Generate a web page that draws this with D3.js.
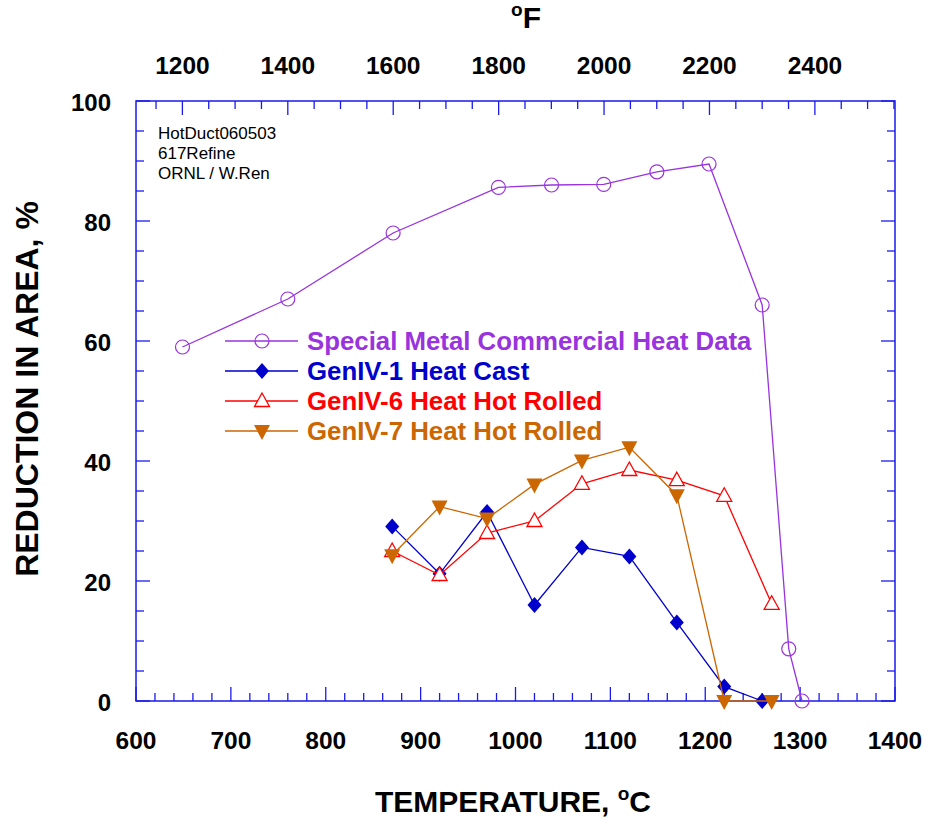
<!DOCTYPE html>
<html>
<head>
<meta charset="utf-8">
<script src="https://cdn.jsdelivr.net/npm/d3@7"></script>
<style>
  body { margin: 0; background: #fff; }
  text { font-family: Arial, "Liberation Sans", sans-serif; }
</style>
</head>
<body>
<svg width="927" height="818"></svg>
<script>
// temperatures in C (most were tested at round F values)
var smTemp = [649, 760, 871, 982, 1038, 1093, 1149, 1204, 1260, 1288, 1302];
var smRA   = [59, 67, 78, 85.6, 86, 86.1, 88.2, 89.5, 66, 8.7, 0];

var g1Temp = [870, 920, 970, 1020, 1070, 1120, 1170, 1220, 1260];
var g1RA   = [29.1, 21.2, 31.5, 16, 25.6, 24.1, 13.1, 2.4, 0];

var g6Temp = [870, 920, 970, 1020, 1070, 1120, 1170, 1220, 1270];
var g6RA   = [25, 21, 28, 30, 36.2, 38.5, 36.8, 34.2, 16.2];

var g7Temp = [870, 920, 970, 1020, 1070, 1120, 1170, 1220, 1270];
var g7RA   = [24.3, 32.4, 30.4, 36.1, 40.1, 42.3, 34.3, 0, 0];

var xTicksC = [600, 700, 800, 900, 1000, 1100, 1200, 1300, 1400];
var xTicksF = [1200, 1400, 1600, 1800, 2000, 2200, 2400];
var yTicks  = [0, 20, 40, 60, 80, 100];
var noteLines = ["HotDuct060503", "617Refine", "ORNL / W.Ren"];

var series = [
  {name: "Special Metal Commercial Heat Data", t: smTemp, v: smRA, color: "#9933dd", sym: "circle"},
  {name: "GenIV-1 Heat Cast", t: g1Temp, v: g1RA, color: "#0000cc", sym: "diamond"},
  {name: "GenIV-6 Heat Hot Rolled", t: g6Temp, v: g6RA, color: "#ff0000", sym: "tri"},
  {name: "GenIV-7 Heat Hot Rolled", t: g7Temp, v: g7RA, color: "#cc6600", sym: "down"}
];

var svg = d3.select("svg");
var L = 136, R = 895, T = 101, B = 701;
var axisColor = "#1a1aee";

var x = d3.scaleLinear().domain([600, 1400]).range([L, R]);
var y = d3.scaleLinear().domain([0, 100]).range([B, T]);
function f2c(f) { return (f - 32) * 5 / 9; }

// frame
svg.append("rect")
  .attr("x", L).attr("y", T).attr("width", R - L).attr("height", B - T)
  .attr("fill", "none").attr("stroke", axisColor).attr("stroke-width", 1.5);

var ticks = svg.append("g").attr("stroke", axisColor).attr("stroke-width", 1.3);

// bottom ticks every 20 C, major every 100
d3.range(600, 1401, 20).forEach(function(c) {
  var len = c % 100 === 0 ? 14 : 8;
  ticks.append("line").attr("x1", x(c)).attr("x2", x(c)).attr("y1", B).attr("y2", B - len);
});
// top ticks every 50 F, major every 200
d3.range(1150, 2551, 50).forEach(function(f) {
  var c = f2c(f);
  if (c < 600 || c > 1400) return;
  var len = f % 200 === 0 ? 14 : 8;
  ticks.append("line").attr("x1", x(c)).attr("x2", x(c)).attr("y1", T).attr("y2", T + len);
});
// left and right ticks every 5, major every 20
d3.range(0, 101, 5).forEach(function(v) {
  var len = v % 20 === 0 ? 14 : 8;
  ticks.append("line").attr("x1", L).attr("x2", L + len).attr("y1", y(v)).attr("y2", y(v));
  ticks.append("line").attr("x1", R).attr("x2", R - len).attr("y1", y(v)).attr("y2", y(v));
});

// tick labels
svg.append("g").selectAll("text").data(xTicksC).enter().append("text")
  .attr("x", function(d) { return x(d); }).attr("y", 749)
  .attr("text-anchor", "middle").attr("font-size", 24.5).attr("font-weight", "bold")
  .text(function(d) { return d; });

svg.append("g").selectAll("text").data(xTicksF).enter().append("text")
  .attr("x", function(d) { return x(f2c(d)); }).attr("y", 74)
  .attr("text-anchor", "middle").attr("font-size", 24.5).attr("font-weight", "bold")
  .text(function(d) { return d; });

svg.append("g").selectAll("text").data(yTicks).enter().append("text")
  .attr("x", 111).attr("y", function(d) { return y(d) + 10; })
  .attr("text-anchor", "end").attr("font-size", 24).attr("font-weight", "bold")
  .text(function(d) { return d; });

// axis titles
var xt = svg.append("text").attr("x", 513).attr("y", 812)
  .attr("text-anchor", "middle").attr("font-size", 30).attr("font-weight", "bold");
xt.append("tspan").text("TEMPERATURE, ");
xt.append("tspan").attr("font-size", 19).attr("dy", -12).text("o");
xt.append("tspan").attr("dy", 12).text("C");

var ft = svg.append("text").attr("x", 526).attr("y", 28)
  .attr("text-anchor", "middle").attr("font-size", 30).attr("font-weight", "bold");
ft.append("tspan").attr("font-size", 19).attr("dy", -12).text("o");
ft.append("tspan").attr("dy", 12).text("F");

svg.append("text")
  .attr("transform", "translate(38,389) rotate(-90)")
  .attr("text-anchor", "middle").attr("font-size", 32).attr("font-weight", "bold")
  .text("REDUCTION IN AREA, %");

// note
svg.append("g").selectAll("text").data(noteLines).enter().append("text")
  .attr("x", 158).attr("y", function(d, i) { return 139 + i * 20; })
  .attr("font-size", 17).text(function(d) { return d; });

// markers
function drawMarker(sel, sym, color) {
  if (sym === "circle") {
    sel.append("circle").attr("r", 7).attr("fill", "none").attr("stroke", color).attr("stroke-width", 1.2);
  } else if (sym === "diamond") {
    sel.append("path").attr("d", "M0,-8L7,0L0,8L-7,0Z").attr("fill", color);
  } else if (sym === "tri") {
    sel.append("path").attr("d", "M0,-8L7.5,5.5L-7.5,5.5Z").attr("fill", "#fff").attr("stroke", color).attr("stroke-width", 1.3);
  } else {
    sel.append("path").attr("d", "M-8,-6L8,-6L0,9Z").attr("fill", color);
  }
}

var line = d3.line().x(function(d) { return x(d[0]); }).y(function(d) { return y(d[1]); });

series.forEach(function(s) {
  var pts = s.t.map(function(t, i) { return [t, s.v[i]]; });
  svg.append("path").datum(pts).attr("d", line)
    .attr("fill", "none").attr("stroke", s.color).attr("stroke-width", 1.3);
  pts.forEach(function(p) {
    var m = svg.append("g").attr("transform", "translate(" + x(p[0]) + "," + y(p[1]) + ")");
    drawMarker(m, s.sym, s.color);
  });
});

// legend
series.forEach(function(s, i) {
  var ly = 341 + i * 30;
  svg.append("line").attr("x1", 225).attr("x2", 298).attr("y1", ly).attr("y2", ly)
    .attr("stroke", s.color).attr("stroke-width", 1.3);
  var m = svg.append("g").attr("transform", "translate(262," + ly + ")");
  drawMarker(m, s.sym, s.color);
  svg.append("text").attr("x", 307).attr("y", ly + 9)
    .attr("font-size", 25.8).attr("font-weight", "bold").attr("fill", s.color)
    .text(s.name);
});
</script>
</body>
</html>
